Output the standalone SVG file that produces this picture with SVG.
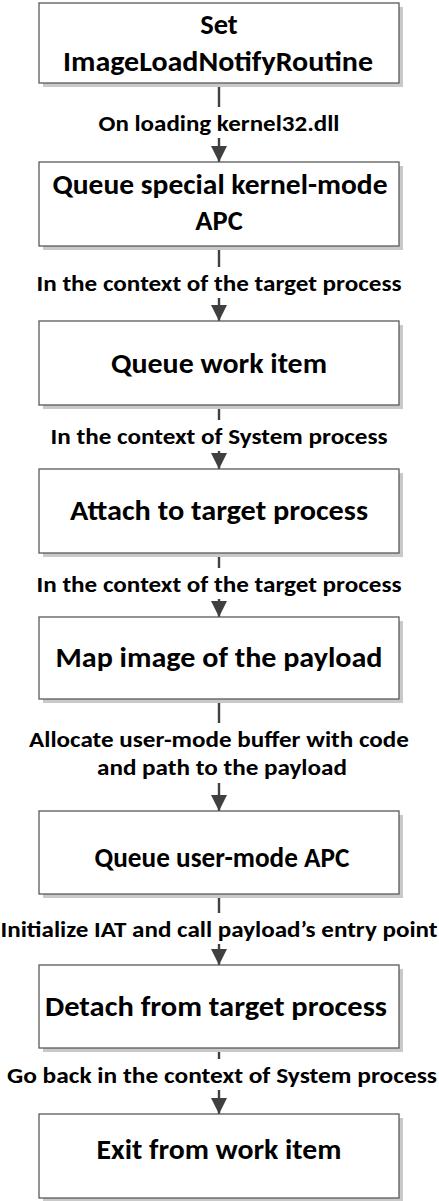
<svg xmlns="http://www.w3.org/2000/svg" width="439" height="1201" viewBox="0 0 439 1201">
  <style>
    .box { fill: #ffffff; stroke: #5a5a5a; stroke-width: 1.3; }
    .shadow { fill: #c9c9c9; }
    .node-text { font-family: Calibri, Carlito, Lato, "Noto Sans", sans-serif; font-weight: bold; font-size: 28.5px; fill: #000000; text-anchor: middle; }
    .edge { stroke: #404040; stroke-width: 2.4; fill: none; marker-end: url(#arrow); }
    .edge-bg { fill: #ffffff; }
    .edge-text { font-family: Calibri, Carlito, Lato, "Noto Sans", sans-serif; font-weight: bold; font-size: 23px; fill: #000000; text-anchor: middle; }
  </style>
  <defs>
    <marker id="arrow" markerUnits="userSpaceOnUse" markerWidth="16" markerHeight="16" viewBox="0 0 16 16" refX="16" refY="8" orient="auto">
      <path d="M0,0 L16,8 L0,16 Z" fill="#404040"/>
    </marker>
  </defs>
  <rect width="439" height="1201" fill="#ffffff"/>

  <!-- connectors -->
  <g id="connectors">
    <line class="edge" x1="219" y1="83" x2="219" y2="162"/>
    <line class="edge" x1="219" y1="246" x2="219" y2="321"/>
    <line class="edge" x1="219" y1="405" x2="219" y2="469"/>
    <line class="edge" x1="219" y1="553" x2="219" y2="617"/>
    <line class="edge" x1="219" y1="699" x2="219" y2="811"/>
    <line class="edge" x1="219" y1="894" x2="219" y2="965"/>
    <line class="edge" x1="219" y1="1048" x2="219" y2="1114"/>
  </g>

  <!-- connector labels -->
  <g id="edge-labels">
    <g id="label-1">
      <rect class="edge-bg" x="95" y="107" width="248" height="31"/>
      <text class="edge-text" x="219" y="131" textLength="241" lengthAdjust="spacingAndGlyphs">On loading kernel32.dll</text>
    </g>
    <g id="label-2">
      <rect class="edge-bg" x="33" y="267" width="372" height="31"/>
      <text class="edge-text" x="219" y="291" textLength="365" lengthAdjust="spacingAndGlyphs">In the context of the target process</text>
    </g>
    <g id="label-3">
      <rect class="edge-bg" x="47" y="420" width="344" height="31"/>
      <text class="edge-text" x="219" y="444" textLength="337" lengthAdjust="spacingAndGlyphs">In the context of System process</text>
    </g>
    <g id="label-4">
      <rect class="edge-bg" x="33" y="568" width="372" height="31"/>
      <text class="edge-text" x="219" y="592" textLength="365" lengthAdjust="spacingAndGlyphs">In the context of the target process</text>
    </g>
    <g id="label-5">
      <rect class="edge-bg" x="25" y="723" width="388" height="60"/>
      <text class="edge-text" x="219" y="747" textLength="380" lengthAdjust="spacingAndGlyphs">Allocate user-mode buffer with code</text>
      <text class="edge-text" x="222" y="775" textLength="250" lengthAdjust="spacingAndGlyphs">and path to the payload</text>
    </g>
    <g id="label-6">
      <rect class="edge-bg" x="0" y="913" width="439" height="31"/>
      <text class="edge-text" x="219" y="937" textLength="437" lengthAdjust="spacingAndGlyphs">Initialize IAT and call payload’s entry point</text>
    </g>
    <g id="label-7">
      <rect class="edge-bg" x="4" y="1059" width="435" height="31"/>
      <text class="edge-text" x="222" y="1083" textLength="430" lengthAdjust="spacingAndGlyphs">Go back in the context of System process</text>
    </g>
  </g>

  <!-- process steps -->
  <g id="node-set-routine">
    <rect class="shadow" x="43" y="7" width="360" height="80"/>
    <rect class="box" x="39" y="3" width="360" height="80"/>
    <text class="node-text" x="219" y="34">Set</text>
    <text class="node-text" x="218" y="71" textLength="310" lengthAdjust="spacingAndGlyphs">ImageLoadNotifyRoutine</text>
  </g>
  <g id="node-kernel-apc">
    <rect class="shadow" x="43" y="166" width="360" height="84"/>
    <rect class="box" x="39" y="162" width="360" height="84"/>
    <text class="node-text" x="220" y="194" textLength="335" lengthAdjust="spacingAndGlyphs">Queue special kernel-mode</text>
    <text class="node-text" x="219" y="230">APC</text>
  </g>
  <g id="node-work-item">
    <rect class="shadow" x="43" y="325" width="360" height="84"/>
    <rect class="box" x="39" y="321" width="360" height="84"/>
    <text class="node-text" x="219" y="373" textLength="216" lengthAdjust="spacingAndGlyphs">Queue work item</text>
  </g>
  <g id="node-attach">
    <rect class="shadow" x="43" y="473" width="360" height="84"/>
    <rect class="box" x="39" y="469" width="360" height="84"/>
    <text class="node-text" x="219" y="520" textLength="298" lengthAdjust="spacingAndGlyphs">Attach to target process</text>
  </g>
  <g id="node-map-image">
    <rect class="shadow" x="43" y="621" width="360" height="82"/>
    <rect class="box" x="39" y="617" width="360" height="82"/>
    <text class="node-text" x="219" y="667" textLength="327" lengthAdjust="spacingAndGlyphs">Map image of the payload</text>
  </g>
  <g id="node-user-apc">
    <rect class="shadow" x="43" y="815" width="360" height="83"/>
    <rect class="box" x="39" y="811" width="360" height="83"/>
    <text class="node-text" x="222" y="867" textLength="255" lengthAdjust="spacingAndGlyphs">Queue user-mode APC</text>
  </g>
  <g id="node-detach">
    <rect class="shadow" x="43" y="969" width="360" height="83"/>
    <rect class="box" x="39" y="965" width="360" height="83"/>
    <text class="node-text" x="216" y="1016" textLength="342" lengthAdjust="spacingAndGlyphs">Detach from target process</text>
  </g>
  <g id="node-exit">
    <rect class="shadow" x="43" y="1118" width="360" height="83"/>
    <rect class="box" x="39" y="1114" width="360" height="84"/>
    <text class="node-text" x="219" y="1159" textLength="245" lengthAdjust="spacingAndGlyphs">Exit from work item</text>
  </g>
</svg>
